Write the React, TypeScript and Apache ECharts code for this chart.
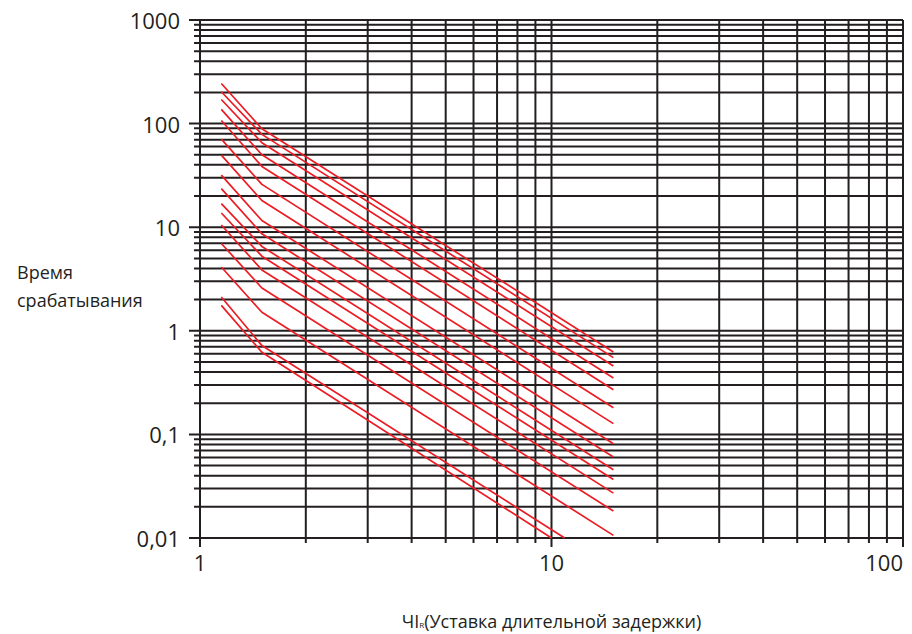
import React, { useEffect, useRef } from "react";
import * as echarts from "echarts";

// Current multiples (I/Ir) at which each curve is sampled
const startCurrent = 1.15;
const kneeCurrent = 1.5;
// Operating times (s), one entry per curve (top to bottom)
const startTimes = [244, 203, 171, 137, 107, 70.8, 49.6, 31.8, 23.6, 16.9, 13.7, 10.5, 6.96, 4.13, 2.12, 1.76];
const kneeTimes = [89.1, 78.7, 65.3, 50.0, 38.6, 25.9, 18.1, 11.6, 8.63, 6.52, 5.25, 3.87, 2.59, 1.51, 0.72, 0.62];
const endCurrents = [15, 15, 15, 15, 15, 15, 15, 15, 15, 15, 15, 15, 15, 15, 10.9, 10.0];
const endTimes = [0.624, 0.551, 0.457, 0.35, 0.27, 0.181, 0.127, 0.0813, 0.0604, 0.0456, 0.0367, 0.0271, 0.0182, 0.0106, 0.01, 0.01];

// Axis ranges and grid-line values
const xMin = 1;
const xMax = 100;
const yMin = 0.01;
const yMax = 1000;
const xGridValues = [1, 2, 3, 4, 5, 6, 7, 8, 9, 10, 20, 30, 40, 50, 60, 70, 80, 90, 100];
const yGridValues = [
  0.01, 0.02, 0.03, 0.04, 0.05, 0.06, 0.07, 0.08, 0.09,
  0.1, 0.2, 0.3, 0.4, 0.5, 0.6, 0.7, 0.8, 0.9,
  1, 2, 3, 4, 5, 6, 7, 8, 9,
  10, 20, 30, 40, 50, 60, 70, 80, 90,
  100, 200, 300, 400, 500, 600, 700, 800, 900,
  1000,
];

const GRID_COLOR = "#231f20";
const CURVE_COLOR = "#ec1c24";
const FONT = "'Open Sans', 'Noto Sans', sans-serif";

const isDecade = (v: number) => {
  const l = Math.log10(v);
  return Math.abs(l - Math.round(l)) < 1e-6;
};

const fmtY = (v: number) => {
  if (v >= 1) return String(Math.round(v));
  const d = Math.round(-Math.log10(v));
  return v.toFixed(d).replace(".", ",");
};

export default function App() {
  const ref = useRef<HTMLDivElement>(null);
  useEffect(() => {
    if (!ref.current) return;
    const chart = echarts.init(ref.current, null, { renderer: "svg" });

    const curveSeries = startTimes.map((s, i) => ({
      type: "line",
      name: "curve" + i,
      data: [
        [startCurrent, s],
        [kneeCurrent, kneeTimes[i]],
        [endCurrents[i], endTimes[i]],
      ],
      showSymbol: false,
      symbol: "none",
      lineStyle: { color: CURVE_COLOR, width: 1.7 },
      z: 5,
      silent: true,
    }));

    chart.setOption({
      animation: false,
      grid: { left: 200, right: 9, top: 20, bottom: 96, containLabel: false, outerBoundsMode: "none" },
      xAxis: {
        type: "log",
        logBase: 10,
        min: xMin,
        max: xMax,
        axisLine: { show: false },
        axisTick: { show: false },
        splitLine: { show: false },
        axisLabel: {
          margin: 13,
          fontSize: 22,
          fontFamily: FONT,
          color: GRID_COLOR,
          alignMaxLabel: "right",
          formatter: (v: number) => String(Math.round(v)),
        },
        name: "ЧI{r|R}(Уставка длительной задержки)",
        nameLocation: "middle",
        nameGap: 74,
        nameTextStyle: {
          fontSize: 18,
          fontFamily: FONT,
          color: GRID_COLOR,
          rich: {
            r: { fontSize: 8, fontFamily: FONT, color: GRID_COLOR, verticalAlign: "bottom", padding: [0, 0, 2, 0] },
          },
        },
      },
      yAxis: {
        type: "log",
        logBase: 10,
        min: yMin,
        max: yMax,
        axisLine: { show: false },
        axisTick: { show: false },
        splitLine: { show: false },
        axisLabel: {
          margin: 20,
          fontSize: 22,
          fontFamily: FONT,
          color: GRID_COLOR,
          formatter: (v: number) => fmtY(v),
        },
      },
      graphic: [
        {
          type: "text",
          left: 17,
          top: 258,
          style: {
            text: "Время\nсрабатывания",
            font: "18px 'Open Sans', 'Noto Sans', sans-serif",
            fill: GRID_COLOR,
            lineHeight: 28,
          },
        },
      ],
      series: [
        {
          type: "custom",
          name: "hgrid",
          silent: true,
          clip: false,
          z: 1,
          data: yGridValues.map((v) => [xMin, v]),
          renderItem: (params: any, api: any) => {
            const v = api.value(1);
            const p1 = api.coord([xMin, v]);
            const p2 = api.coord([xMax, v]);
            const ext = isDecade(v) ? 11 : 6;
            return {
              type: "line",
              shape: { x1: p1[0] - ext, y1: p1[1], x2: p2[0], y2: p2[1] },
              style: { stroke: GRID_COLOR, lineWidth: 2 },
            };
          },
        },
        {
          type: "custom",
          name: "vgrid",
          silent: true,
          clip: false,
          z: 1,
          data: xGridValues.map((v) => [v, yMin]),
          renderItem: (params: any, api: any) => {
            const v = api.value(0);
            const p1 = api.coord([v, yMin]);
            const p2 = api.coord([v, yMax]);
            const ext = isDecade(v) ? 9 : 5;
            return {
              type: "line",
              shape: { x1: p1[0], y1: p1[1] + ext, x2: p2[0], y2: p2[1] },
              style: { stroke: GRID_COLOR, lineWidth: 2 },
            };
          },
        },
        ...curveSeries,
      ],
    });
    return () => chart.dispose();
  }, []);

  return (
    <div
      ref={ref}
      style={{ position: "fixed", left: 0, top: 0, width: 912, height: 634, background: "#fff" }}
    />
  );
}
